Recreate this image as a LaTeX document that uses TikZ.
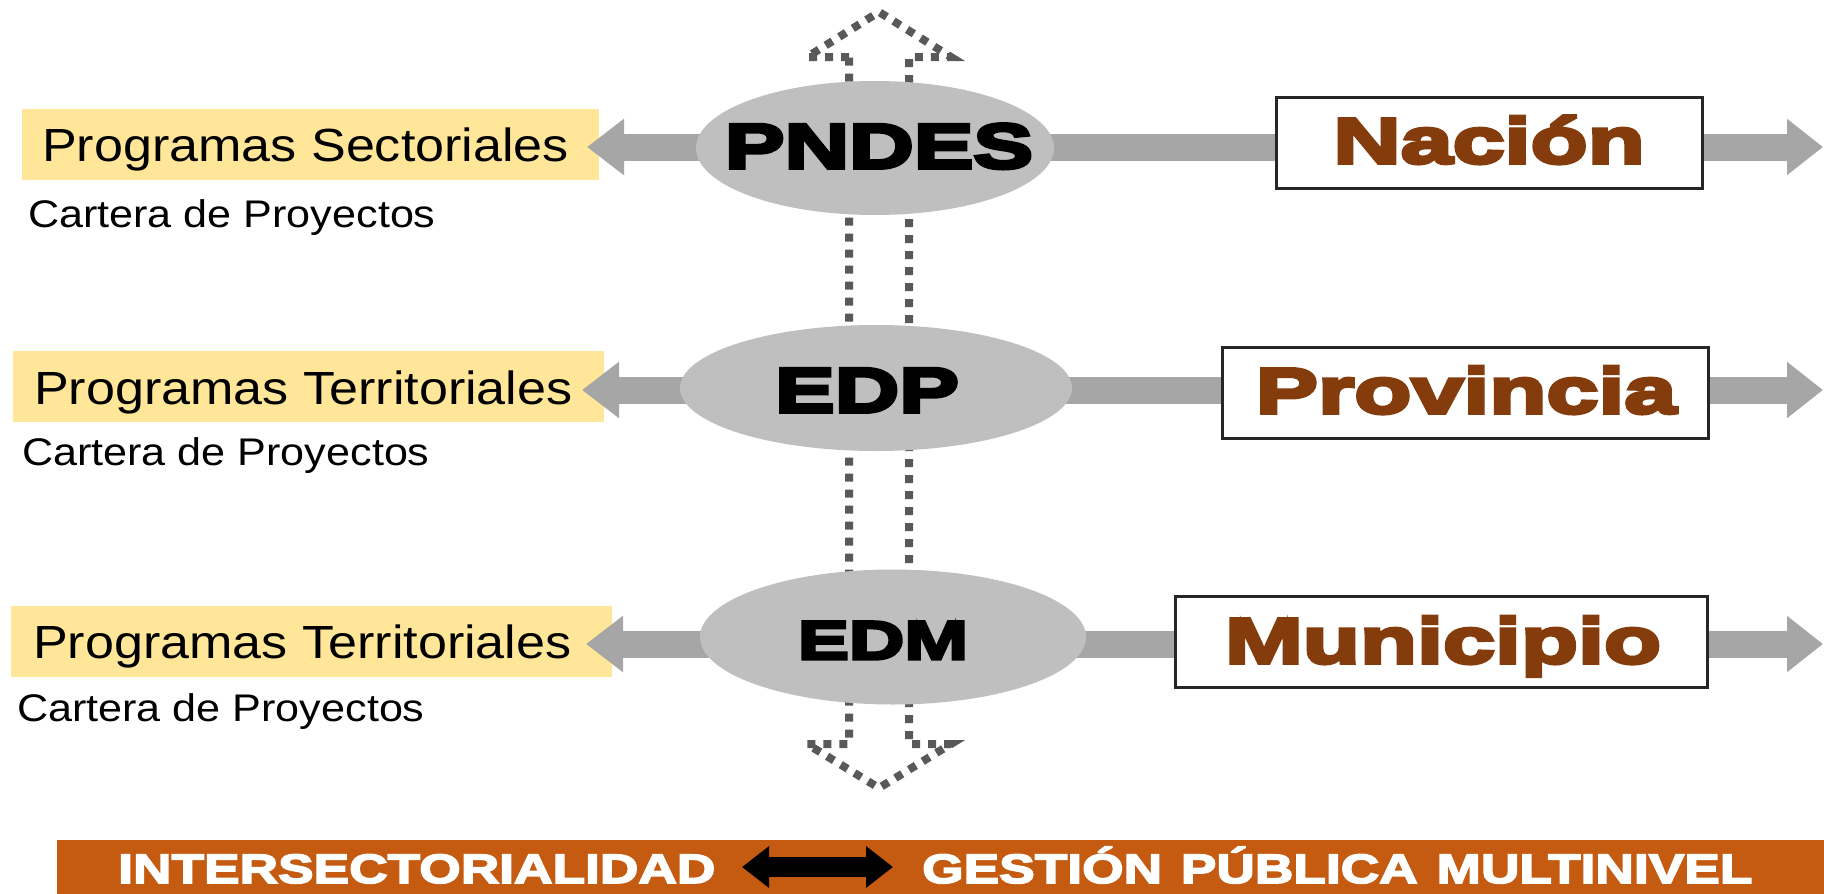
\documentclass[tikz,border=0pt]{standalone}
\usepackage{fontspec}
\setmainfont{Liberation Sans}
\newfontfamily\regfont[FakeStretch=1.12]{Liberation Sans}
\newfontfamily\ellfont[FakeStretch=1.42,FakeBold=6]{Liberation Sans Bold}
\newfontfamily\boxfont[FakeStretch=1.46,FakeBold=6]{Liberation Sans Bold}
\newfontfamily\banfont[FakeStretch=1.30,FakeBold=4]{Liberation Sans Bold}
\usetikzlibrary{arrows.meta,shapes.geometric}
\definecolor{yfill}{HTML}{FFE699}
\definecolor{shaftgray}{HTML}{A6A6A6}
\definecolor{ellgray}{HTML}{BFBFBF}
\definecolor{dotgray}{HTML}{595959}
\definecolor{brownt}{HTML}{843C0C}
\definecolor{bannerc}{HTML}{C55A11}
\definecolor{boxline}{HTML}{262626}
\pgfdeclarelayer{back}
\pgfdeclarelayer{mid}
\pgfsetlayers{back,mid,main}
\begin{document}
\begin{tikzpicture}[x=1pt,y=-1pt,
  yellowbox/.style={fill=yfill, draw=none, inner sep=0pt, minimum height=71pt},
  progtext/.style={anchor=base west, inner sep=0pt, font=\regfont\fontsize{46.5}{56}\selectfont},
  cartext/.style={anchor=base west, inner sep=0pt, font=\regfont\fontsize{38.5}{46}\selectfont},
  ellnode/.style={ellipse, fill=ellgray, draw=none, inner sep=0pt},
  elltext/.style={anchor=base, inner sep=0pt, text=black, font=\ellfont\fontsize{63}{70}\selectfont},
  levelbox/.style={draw=boxline, line width=3pt, fill=white, inner sep=0pt, minimum height=91pt},
  leveltext/.style={anchor=base, inner sep=0pt, text=brownt, font=\boxfont\fontsize{64}{72}\selectfont},
  rarrow/.style={draw=shaftgray, line width=27pt, -{Triangle[length=36pt,width=54pt]}},
  larrow/.style={draw=shaftgray, line width=27pt, -{Triangle[length=37pt,width=54pt]}},
  dotarrow/.style={draw=dotgray, line width=8pt, dash pattern=on 8pt off 8pt, line join=miter},
  bantext/.style={anchor=base west, inner sep=0pt, text=white, font=\banfont\fontsize{41}{48}\selectfont},
  banarrow/.style={draw=black, line width=20pt, {Triangle[length=27pt,width=40pt]}-{Triangle[length=27pt,width=40pt]}}
]
\useasboundingbox (0,0) rectangle (1824,894);

% bottom banner
\fill[bannerc] (57,840) rectangle (1824,894);
\node[bantext] (inter) at (118,883) {INTERSECTORIALIDAD};
\node[bantext] (gest) at (922,883) {GESTIÓN\hspace{4pt} PÚBLICA\hspace{4pt} MULTINIVEL};
\coordinate (bl) at (742,867);
\coordinate (br) at (893,867);
\draw[banarrow] (bl) -- (br);

% dotted double block arrow and yellow boxes (background)
\begin{pgfonlayer}{back}
\draw[dotarrow] (849,57) -- (807,57) -- (879,12) -- (951,57) -- (909,57)
  -- (909,744) -- (951,744) -- (879,788) -- (807,744) -- (849,744) -- cycle;
\node[yellowbox, minimum width=577pt] (yb1) at (310.5,144) {};
\node[yellowbox, minimum width=591pt] (yb2) at (308.5,386.5) {};
\node[yellowbox, minimum width=601pt] (yb3) at (311.5,641) {};
\end{pgfonlayer}

% ellipses
\node[ellnode, minimum width=358pt, minimum height=134pt] (pndes) at (875,148) {};
\node[ellnode, minimum width=392pt, minimum height=126pt] (edp) at (876,388) {};
\node[ellnode, minimum width=386pt, minimum height=135pt] (edm) at (893,637) {};

% arrow end points
\coordinate (tipL1) at (587,147);
\coordinate (tipL2) at (582,390);
\coordinate (tipL3) at (586,644);
\coordinate (tipR1) at (1823,147);
\coordinate (tipR2) at (1823,390);
\coordinate (tipR3) at (1823,644);

\begin{pgfonlayer}{mid}
\draw[larrow] (pndes.center |- tipL1) -- (tipL1);
\draw[rarrow] (pndes.center |- tipR1) -- (tipR1);
\draw[larrow] (edp.center |- tipL2) -- (tipL2);
\draw[rarrow] (edp.center |- tipR2) -- (tipR2);
\draw[larrow] (edm.center |- tipL3) -- (tipL3);
\draw[rarrow] (edm.center |- tipR3) -- (tipR3);
\end{pgfonlayer}

% level boxes
\node[levelbox, minimum width=426pt] (nacbox) at (1489,142.5) {};
\node[levelbox, minimum width=486pt] (provbox) at (1465,392.5) {};
\node[levelbox, minimum width=532pt] (munbox) at (1441,641.5) {};

% texts
\node[elltext] (pndest) at (879,168) {PNDES};
\node[elltext] (edpt) at (867,412) {EDP};
\node[elltext, font=\ellfont\fontsize{54}{60}\selectfont] (edmt) at (883,659) {EDM};
\node[leveltext] (nact) at (1489,163) {Nación};
\node[leveltext] (provt) at (1466,413) {Provincia};
\node[leveltext] (munt) at (1443,663) {Municipio};

\node[progtext] (p1) at (42,161) {Programas Sectoriales};
\node[progtext] (p2) at (34,404) {Programas Territoriales};
\node[progtext] (p3) at (33,658) {Programas Territoriales};
\node[cartext] (c1) at (28,227) {Cartera de Proyectos};
\node[cartext] (c2) at (22,465) {Cartera de Proyectos};
\node[cartext] (c3) at (17,721) {Cartera de Proyectos};
\end{tikzpicture}
\end{document}
